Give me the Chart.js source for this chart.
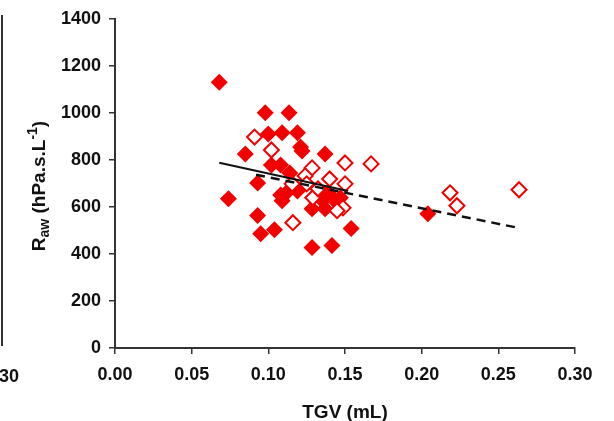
<!DOCTYPE html>
<html>
<head>
<meta charset="utf-8">
<script src="https://cdn.jsdelivr.net/npm/chart.js@4.4.1/dist/chart.umd.min.js"></script>
<style>
    body { margin: 0; background: #fff; }
    #wrap { position: relative; width: 614px; height: 421px; }
    #edge { position: absolute; left: 1px; top: 15px; width: 2px; height: 331px; background: #333; }
    #edgeLabel { position: absolute; left: -1px; top: 366px; font: bold 18px "Liberation Sans", Arial, sans-serif; color: #111; }
</style>
</head>
<body>
<div id="wrap">
    <canvas id="chart" width="614" height="421"></canvas>
    <div id="edge"></div>
    <div id="edgeLabel">30</div>
</div>
<script>
// Filled diamonds
const filledX = [0.068, 0.098, 0.1135, 0.100, 0.109, 0.119, 0.121, 0.122, 0.085, 0.102, 0.108, 0.137,
                 0.093, 0.074, 0.108, 0.109, 0.119, 0.093, 0.095, 0.104, 0.1285, 0.1415, 0.154, 0.204,
                 0.1285, 0.137, 0.1355, 0.1435, 0.147, 0.114, 0.139, 0.113];
const filledY = [1130, 1000, 1000, 910, 915, 915, 855, 838, 825, 778, 778, 825,
                 702, 635, 651, 626, 668, 563, 486, 503, 427, 436, 508, 571,
                 592, 592, 626, 626, 639, 744, 660, 668];

// Open diamonds
const openX = [0.091, 0.102, 0.150, 0.167, 0.1285, 0.124, 0.140, 0.150, 0.116, 0.1487, 0.129,
               0.2185, 0.223, 0.2635, 0.1155, 0.125, 0.1448, 0.1324];
const openY = [897, 842, 787, 783, 766, 732, 719, 698, 533, 596, 639,
               660, 605, 673, 698, 698, 584, 677];

// Regression lines (end points)
const solidX = [0.068, 0.152];
const solidY = [788, 668];
const dashedX = [0.092, 0.263];
const dashedY = [737, 511];

const xTicks = [0, 0.05, 0.10, 0.15, 0.20, 0.25, 0.30];
const yTicks = [0, 200, 400, 600, 800, 1000, 1200, 1400];

const red = '#f20000';
const fontFamily = '"Liberation Sans", Arial, sans-serif';

function toPoints(xs, ys) {
    return xs.map((x, i) => ({ x: x, y: ys[i] }));
}

// draws the y title with the "aw" subscript
const yTitlePlugin = {
    id: 'yTitle',
    afterDraw(chart) {
        const ctx = chart.ctx;
        ctx.save();
        ctx.translate(40, 0);
        ctx.rotate(-Math.PI / 2);
        ctx.fillStyle = '#111';
        ctx.textBaseline = 'middle';
        const big = 'bold 19px ' + fontFamily;
        const small = 'bold 14px ' + fontFamily;
        const parts = [
            { t: 'R', f: big, dy: 0 },
            { t: 'aw', f: small, dy: 5 },
            { t: ' (hPa.s.L', f: big, dy: 0 },
            { t: '-1', f: small, dy: -7 },
            { t: ')', f: big, dy: 0 }
        ];
        let total = 0;
        parts.forEach(p => { ctx.font = p.f; total += ctx.measureText(p.t).width; });
        let pos = -186 - total / 2;
        parts.forEach(p => {
            ctx.font = p.f;
            ctx.fillText(p.t, pos, p.dy);
            pos += ctx.measureText(p.t).width;
        });
        ctx.restore();
    }
};

new Chart(document.getElementById('chart'), {
    type: 'scatter',
    data: {
        datasets: [
            {
                type: 'line',
                data: toPoints(solidX, solidY),
                borderColor: '#111',
                borderWidth: 2,
                pointRadius: 0,
                order: 0
            },
            {
                type: 'line',
                data: toPoints(dashedX, dashedY),
                borderColor: '#111',
                borderWidth: 2.5,
                borderDash: [9, 6],
                pointRadius: 0,
                order: 0
            },
            {
                data: toPoints(openX, openY),
                pointStyle: 'rectRot',
                pointRadius: 7.5,
                pointBorderWidth: 2,
                backgroundColor: '#fff',
                borderColor: red,
                order: 1
            },
            {
                data: toPoints(filledX, filledY),
                pointStyle: 'rectRot',
                pointRadius: 8.5,
                pointBorderWidth: 0,
                backgroundColor: red,
                borderColor: red,
                order: 1
            }
        ]
    },
    options: {
        responsive: false,
        animation: false,
        layout: { padding: { top: 17, right: 39, left: 0, bottom: 0 } },
        plugins: {
            legend: { display: false },
            tooltip: { enabled: false }
        },
        scales: {
            x: {
                type: 'linear',
                min: 0,
                max: 0.30,
                afterFit: s => { s.height = 73; },
                afterBuildTicks: s => { s.ticks = xTicks.map(v => ({ value: v })); },
                grid: { drawOnChartArea: false, tickLength: 6, color: '#333', lineWidth: 1.5 },
                border: { color: '#333', width: 2 },
                ticks: {
                    padding: 10,
                    color: '#111',
                    font: { family: fontFamily, size: 18, weight: 'bold' },
                    callback: v => v.toFixed(2)
                },
                title: {
                    display: true,
                    text: 'TGV (mL)',
                    color: '#111',
                    font: { family: fontFamily, size: 19, weight: 'bold' },
                    padding: { top: 0, bottom: -3 }
                }
            },
            y: {
                min: 0,
                max: 1400,
                afterFit: s => { s.width = 115; },
                afterBuildTicks: s => { s.ticks = yTicks.map(v => ({ value: v })); },
                grid: { drawOnChartArea: false, tickLength: 6, color: '#333', lineWidth: 1.5 },
                border: { color: '#333', width: 2 },
                ticks: {
                    padding: 8,
                    color: '#111',
                    font: { family: fontFamily, size: 18, weight: 'bold' },
                    callback: v => String(v)
                }
            }
        }
    },
    plugins: [yTitlePlugin]
});
</script>
</body>
</html>
